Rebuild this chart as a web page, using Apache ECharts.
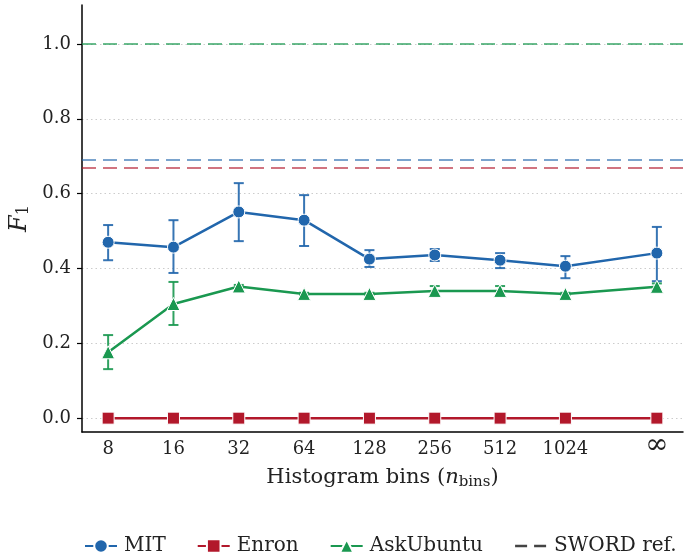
<!DOCTYPE html>
<html>
<head>
<meta charset="utf-8">
<script src="https://cdn.jsdelivr.net/npm/echarts@6/dist/echarts.min.js"></script>
<style>
  html, body { margin: 0; padding: 0; background: #fff; }
  #chart { width: 684px; height: 554px; }
</style>
</head>
<body>
<div id="chart"></div>
<script>
// Bin counts on a log2 axis; the unbounded case sits a little past 1024.
const binLabels = ['8', '16', '32', '64', '128', '256', '512', '1024', '\u221e'];
const binPos = [3, 4, 5, 6, 7, 8, 9, 10, 11.4];

// F1 means with lower / upper error bounds
const mit = [0.470, 0.457, 0.551, 0.529, 0.425, 0.436, 0.422, 0.406, 0.441];
const mitLo = [0.422, 0.388, 0.473, 0.460, 0.404, 0.420, 0.401, 0.374, 0.366];
const mitHi = [0.516, 0.529, 0.628, 0.596, 0.449, 0.452, 0.441, 0.433, 0.511];

const enron = [0, 0, 0, 0, 0, 0, 0, 0, 0];

const askUbuntu = [0.176, 0.305, 0.352, 0.332, 0.332, 0.340, 0.340, 0.332, 0.351];
const askLo = [0.131, 0.249, 0.348, 0.329, 0.329, 0.328, 0.328, 0.329, 0.342];
const askHi = [0.222, 0.364, 0.356, 0.335, 0.335, 0.353, 0.353, 0.335, 0.360];

// SWORD reference F1 per dataset
const swordMit = 0.693;
const swordEnron = 0.668;
const swordAsk = 1.0;

const yTicks = [0, 0.2, 0.4, 0.6, 0.8, 1.0];

const C_MIT = '#2166ac', C_ENRON = '#b2182b', C_ASK = '#1a9850';
const FONT = 'DejaVu Serif';
const TXT = '#222';

function pts(ys) { return ys.map((y, i) => [binPos[i], y]); }
function errData(lo, hi) { return lo.map((l, i) => [binPos[i], l, hi[i]]); }

function errorSeries(name, lo, hi, color) {
  return {
    type: 'custom',
    name: name + ' err',
    z: 2,
    silent: true,
    data: errData(lo, hi),
    renderItem: function (params, api) {
      const x = api.value(0);
      const top = api.coord([x, api.value(2)]);
      const bot = api.coord([x, api.value(1)]);
      const hw = 5;
      const st = { stroke: color, lineWidth: 2, opacity: 0.9 };
      return {
        type: 'group',
        children: [
          { type: 'line', shape: { x1: top[0], y1: top[1], x2: bot[0], y2: bot[1] }, style: st },
          { type: 'line', shape: { x1: top[0] - hw, y1: top[1], x2: top[0] + hw, y2: top[1] }, style: st },
          { type: 'line', shape: { x1: bot[0] - hw, y1: bot[1], x2: bot[0] + hw, y2: bot[1] }, style: st }
        ]
      };
    }
  };
}

function lineSeries(name, ys, color, symbol, size) {
  return {
    type: 'line',
    name: name,
    z: 3,
    data: pts(ys),
    symbol: symbol,
    symbolSize: size,
    showAllSymbol: true,
    lineStyle: { color: color, width: 2.5 },
    itemStyle: { color: color, borderColor: '#fff', borderWidth: 1, opacity: 1 },
    emphasis: { disabled: true }
  };
}

function refLine(value, color, opacity) {
  return {
    yAxis: value,
    lineStyle: { color: color, type: [14, 7], width: 2.2, opacity: opacity }
  };
}

const chart = echarts.init(document.getElementById('chart'), null, { renderer: 'canvas' });

chart.setOption({
  animation: false,
  backgroundColor: '#fff',
  textStyle: { fontFamily: FONT },
  grid: { left: 82, right: 1, top: 5, bottom: 122, containLabel: false, outerBoundsMode: 'none' },
  xAxis: {
    type: 'value',
    min: 2.6,
    max: 11.8,
    name: '{r|Histogram bins (}{i|n}{s|bins}{r|)}',
    nameLocation: 'middle',
    nameGap: 34,
    nameMoveOverlap: false,
    nameTextStyle: {
      rich: {
        r: { fontFamily: FONT, fontSize: 21, color: TXT },
        i: { fontFamily: FONT, fontSize: 21, fontStyle: 'italic', color: TXT },
        s: { fontFamily: FONT, fontSize: 15, color: TXT, verticalAlign: 'bottom', padding: [9, 0, 0, 0] }
      }
    },
    axisLine: { show: true, onZero: false, lineStyle: { color: '#000', width: 1.5 } },
    axisTick: { show: false },
    splitLine: { show: false },
    axisLabel: {
      customValues: binPos,
      fontFamily: FONT,
      fontSize: 18,
      color: TXT,
      margin: 8,
      formatter: function (v) {
        const i = binPos.indexOf(v);
        if (i < 0) return '';
        return binLabels[i] === '\u221e' ? '{inf|\u221e}' : binLabels[i];
      },
      rich: {
        inf: { fontFamily: FONT, fontSize: 28, lineHeight: 12, color: TXT }
      }
    }
  },
  yAxis: {
    type: 'value',
    min: -0.037,
    max: 1.104,
    name: '{i|F}{s|1}',
    nameLocation: 'middle',
    nameRotate: 90,
    nameGap: 50,
    nameMoveOverlap: false,
    nameTextStyle: {
      rich: {
        i: { fontFamily: FONT, fontSize: 24, fontStyle: 'italic', color: TXT },
        s: { fontFamily: FONT, fontSize: 16, color: TXT, verticalAlign: 'bottom', padding: [9, 0, 0, 0] }
      }
    },
    axisLine: { show: true, onZero: false, lineStyle: { color: '#000', width: 1.5 } },
    axisTick: { show: true, customValues: yTicks, length: 5, inside: false, lineStyle: { color: '#000', width: 1.2 } },
    splitLine: { show: true, customValues: yTicks, lineStyle: { color: '#cccccc', type: [1.5, 3], width: 1 } },
    axisLabel: {
      customValues: yTicks,
      fontFamily: FONT,
      fontSize: 18,
      color: TXT,
      margin: 11,
      formatter: function (v) { return v.toFixed(1); }
    }
  },
  legend: {
    left: 79,
    top: 531,
    itemGap: 31,
    itemWidth: 32,
    itemHeight: 17,
    textStyle: { fontFamily: FONT, fontSize: 20, color: TXT, padding: [0, 0, 0, 2] },
    data: [
      'MIT',
      'Enron',
      'AskUbuntu',
      { name: 'SWORD ref.', itemStyle: { opacity: 0 }, lineStyle: { color: '#444', type: [12, 7], width: 2.5 } }
    ]
  },
  series: [
    errorSeries('MIT', mitLo, mitHi, C_MIT),
    errorSeries('AskUbuntu', askLo, askHi, C_ASK),
    lineSeries('MIT', mit, C_MIT, 'circle', 12),
    lineSeries('Enron', enron, C_ENRON, 'rect', 12),
    lineSeries('AskUbuntu', askUbuntu, C_ASK, 'triangle', 13),
    {
      type: 'line',
      name: 'SWORD ref.',
      data: [],
      symbol: 'none',
      lineStyle: { color: '#444', type: [12, 7], width: 2.5 },
      itemStyle: { color: '#444' },
      markLine: {
        silent: true,
        symbol: 'none',
        label: { show: false },
        z: 1,
        data: [
          refLine(swordAsk, C_ASK, 0.65),
          refLine(swordMit, C_MIT, 0.6),
          refLine(swordEnron, C_ENRON, 0.6)
        ]
      }
    }
  ]
});
</script>
</body>
</html>
